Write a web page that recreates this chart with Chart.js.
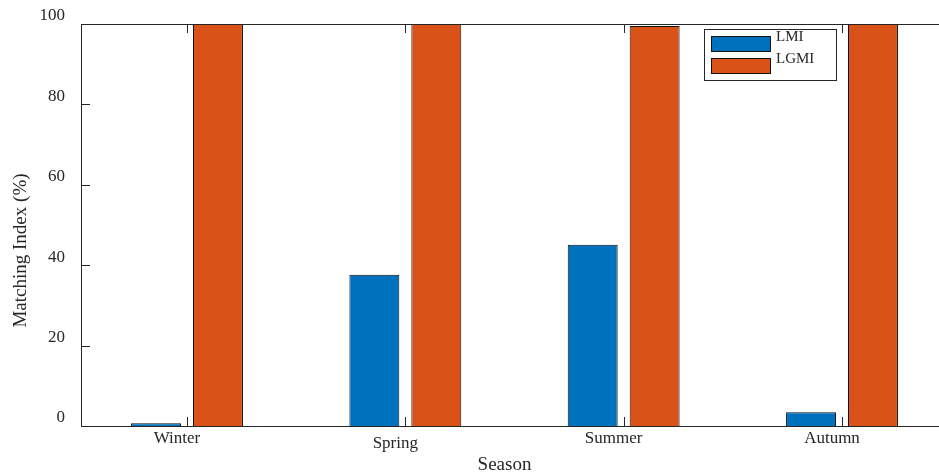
<!DOCTYPE html>
<html>
<head>
<meta charset="utf-8">
<script src="https://cdn.jsdelivr.net/npm/chart.js@4.4.1/dist/chart.umd.min.js"></script>
<style>
  html, body { margin: 0; padding: 0; background: #ffffff; overflow: hidden; }
  #wrap { position: absolute; left: 0; top: 0; width: 950px; height: 474px; }
</style>
</head>
<body>
<div id="wrap"><canvas id="chart"></canvas></div>
<script>
// Seasonal matching index of the two methods
const seasons = ['Winter', 'Spring', 'Summer', 'Autumn'];
const lmiValues = [0.7, 37.6, 45.1, 3.4];
const lgmiValues = [100, 100, 99.5, 100];
const yTicks = [0, 20, 40, 60, 80, 100];
const seriesNames = ['LMI', 'LGMI'];
const xTitle = 'Season';
const yTitle = 'Matching Index (%)';

const BLUE = '#0072BD';
const ORANGE = '#D95319';
const INK = '#262626';
const SERIF = '"Liberation Serif", "Times New Roman", serif';

// seasons sit at x = 1..4 on a numeric axis
const seasonPos = seasons.map((s, i) => i + 1);
const toPoints = vals => vals.map((v, i) => ({ x: seasonPos[i], y: v }));

// Box around the axes with inward tick marks, axis titles and an inset legend
const axesDecor = {
  id: 'axesDecor',
  afterDatasetsDraw(chart) {
    const { ctx, chartArea: a, scales } = chart;
    const tl = 9;
    ctx.save();
    ctx.strokeStyle = INK;
    ctx.lineWidth = 1;
    ctx.beginPath();
    ctx.rect(Math.round(a.left) + 0.5, Math.round(a.top) + 0.5,
             Math.round(a.right - a.left), Math.round(a.bottom - a.top));
    ctx.stroke();

    ctx.beginPath();
    yTicks.forEach(v => {
      const y = Math.round(scales.y.getPixelForValue(v)) + 0.5;
      ctx.moveTo(a.left, y); ctx.lineTo(a.left + tl, y);
      ctx.moveTo(a.right, y); ctx.lineTo(a.right - tl, y);
    });
    seasonPos.forEach(p => {
      const x = Math.round(scales.x.getPixelForValue(p)) + 0.5;
      ctx.moveTo(x, a.bottom); ctx.lineTo(x, a.bottom - tl);
      ctx.moveTo(x, a.top); ctx.lineTo(x, a.top + tl);
    });
    ctx.stroke();

    // axis titles
    ctx.fillStyle = INK;
    ctx.font = '19px ' + SERIF;
    ctx.textAlign = 'center';
    ctx.textBaseline = 'alphabetic';
    ctx.fillText(xTitle, (a.left + a.right) / 2 - 10, a.bottom + 44);
    ctx.save();
    ctx.translate(25.5, (a.top + a.bottom) / 2 + 25.5);
    ctx.rotate(-Math.PI / 2);
    ctx.fillText(yTitle, 0, 0);
    ctx.restore();

    // legend
    const lx = a.left + 623, ly = a.top + 5;
    ctx.fillStyle = '#ffffff';
    ctx.fillRect(lx, ly, 132, 51);
    ctx.strokeStyle = INK;
    ctx.strokeRect(lx + 0.5, ly + 0.5, 132, 51);
    chart.data.datasets.forEach((ds, i) => {
      const py = ly + 7 + i * 22;
      ctx.fillStyle = ds.backgroundColor;
      ctx.fillRect(lx + 7, py, 60, 16);
      ctx.strokeStyle = '#111111';
      ctx.strokeRect(lx + 7.5, py + 0.5, 59, 15);
      ctx.fillStyle = INK;
      ctx.font = '15px ' + SERIF;
      ctx.textAlign = 'left';
      ctx.fillText(ds.label, lx + 72, py + 5);
    });
    ctx.restore();
  }
};

const noEdgePadding = scale => {
  scale.paddingTop = 0; scale.paddingBottom = 0;
  scale.paddingLeft = 0; scale.paddingRight = 0;
};

new Chart(document.getElementById('chart'), {
  type: 'bar',
  data: {
    datasets: [
      { label: seriesNames[0], data: toPoints(lmiValues), backgroundColor: BLUE,
        borderColor: '#111111', borderWidth: 1,
        categoryPercentage: 0.5675, barPercentage: 0.806 },
      { label: seriesNames[1], data: toPoints(lgmiValues), backgroundColor: ORANGE,
        borderColor: '#111111', borderWidth: 1,
        categoryPercentage: 0.5675, barPercentage: 0.806 }
    ]
  },
  options: {
    responsive: true,
    maintainAspectRatio: false,
    animation: false,
    layout: { padding: { top: 24, right: 2, left: 0, bottom: 0 } },
    plugins: { legend: { display: false }, tooltip: { enabled: false } },
    scales: {
      x: {
        type: 'linear',
        min: 0.5145,
        max: 4.4855,
        offset: false,
        grid: { display: false, drawTicks: false },
        border: { display: false },
        afterBuildTicks(scale) { scale.ticks = seasonPos.map(v => ({ value: v })); },
        afterFit(scale) { scale.height = 48; noEdgePadding(scale); },
        ticks: {
          color: INK,
          padding: 2,
          labelOffset: -10,
          maxRotation: 0,
          autoSkip: false,
          callback: v => seasons[v - 1],
          font: (c) => ({ family: SERIF, size: 17, lineHeight: c.index === 1 ? 1.79 : 1.2 })
        }
      },
      y: {
        min: 0,
        max: 100,
        grid: { display: false, drawTicks: false },
        border: { display: false },
        afterBuildTicks(scale) { scale.ticks = yTicks.map(v => ({ value: v })); },
        afterFit(scale) { scale.width = 81; noEdgePadding(scale); },
        ticks: {
          color: INK,
          padding: 16,
          labelOffset: -8,
          font: { family: SERIF, size: 17 }
        }
      }
    }
  },
  plugins: [axesDecor]
});
</script>
</body>
</html>
